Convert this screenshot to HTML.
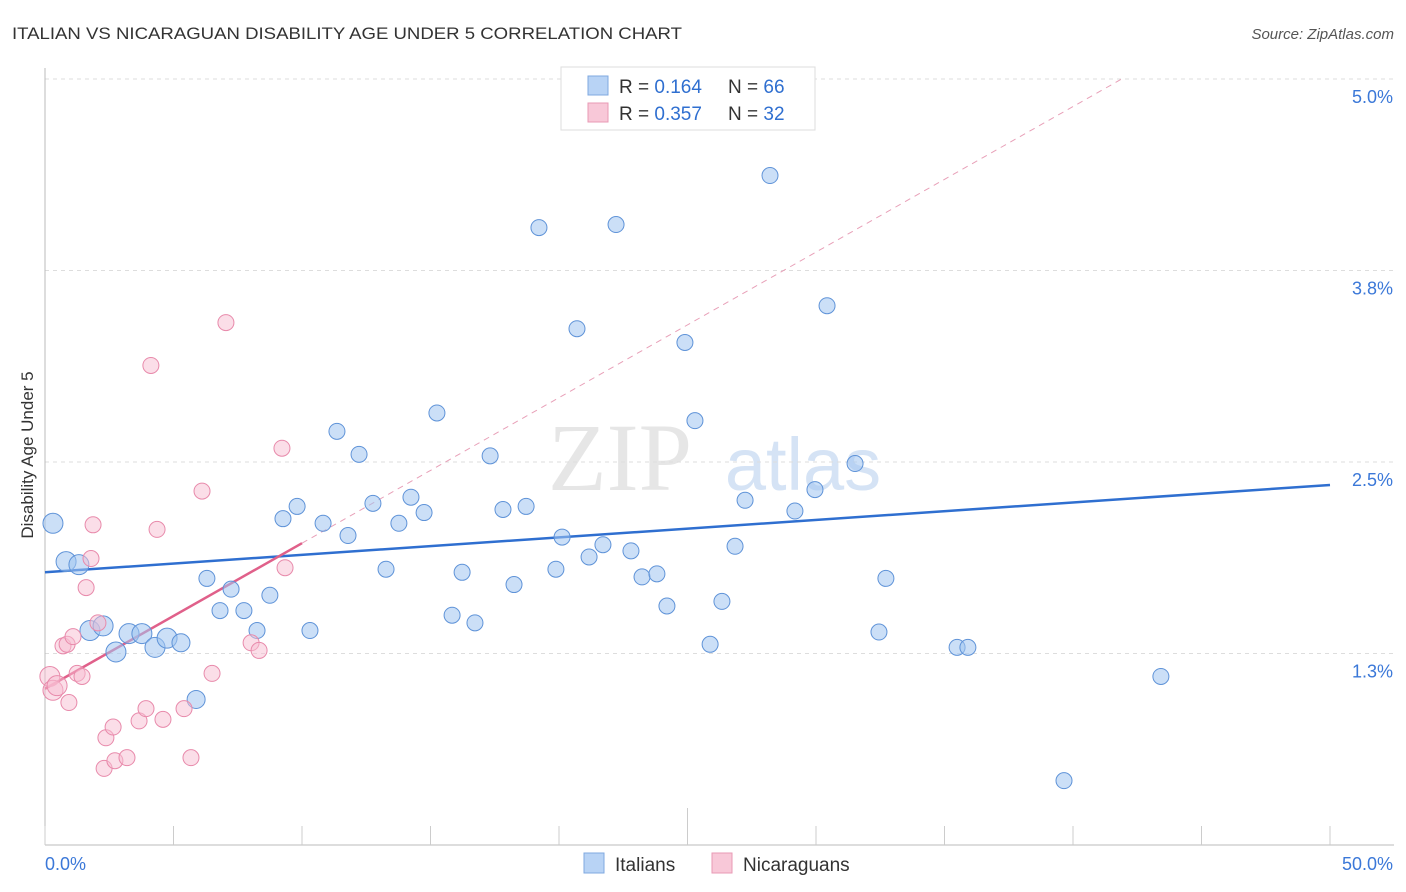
<!DOCTYPE html>
<html><head><meta charset="utf-8"><style>
body{margin:0;background:#fff;font-family:"Liberation Sans",sans-serif;}
svg{display:block}
</style></head><body>
<svg id="chart" width="1406" height="892">
<text x="12" y="39" font-size="17" fill="#333" textLength="670" lengthAdjust="spacingAndGlyphs">ITALIAN VS NICARAGUAN DISABILITY AGE UNDER 5 CORRELATION CHART</text>
<text x="1394" y="39" font-size="15" fill="#555" font-style="italic" text-anchor="end">Source: ZipAtlas.com</text>
<text x="33" y="455" font-size="17" fill="#333" text-anchor="middle" transform="rotate(-90 33 455)">Disability Age Under 5</text>
<text x="620" y="490" font-size="96" fill="#e6e6e6" font-family="Liberation Serif,serif" text-anchor="middle">ZIP</text>
<text x="803" y="490" font-size="74" fill="#d5e3f5" text-anchor="middle">atlas</text>
<g id="grid"></g><g id="axes"></g><g id="trend"></g><g id="pts"></g>
<g>
<rect x="561" y="67" width="254" height="63" fill="#fff" stroke="#ddd"/>
<rect x="588" y="76" width="20" height="19" fill="#b8d3f5" stroke="#7fa8e0"/>
<text x="619" y="93" font-size="19" fill="#333">R = <tspan fill="#2f6fd0">0.164</tspan></text>
<text x="728" y="93" font-size="19" fill="#333">N = <tspan fill="#2f6fd0">66</tspan></text>
<rect x="588" y="103" width="20" height="19" fill="#f8c8d8" stroke="#e89ab5"/>
<text x="619" y="120" font-size="19" fill="#333">R = <tspan fill="#2f6fd0">0.357</tspan></text>
<text x="728" y="120" font-size="19" fill="#333">N = <tspan fill="#2f6fd0">32</tspan></text>
</g>
<rect x="584" y="853" width="20" height="20" fill="#b8d3f5" stroke="#7fa8e0"/>
<text x="615" y="871" font-size="19" fill="#333">Italians</text>
<rect x="712" y="853" width="20" height="20" fill="#f8c8d8" stroke="#e89ab5"/>
<text x="743" y="871" font-size="19" fill="#333">Nicaraguans</text>
</svg>
<script>
const italiansX=[0.31,0.82,1.32,1.75,2.26,2.76,3.27,3.77,4.28,4.75,5.29,5.88,6.30,6.81,7.24,7.74,8.25,8.75,9.26,9.81,10.31,10.82,11.36,11.79,12.22,12.76,13.27,13.77,14.24,14.75,15.25,15.84,16.23,16.73,17.32,17.82,18.25,18.72,19.22,19.88,20.12,20.70,21.17,21.71,22.22,22.80,23.23,23.81,24.20,24.90,25.29,25.88,26.34,26.85,27.24,28.21,29.18,29.96,30.43,31.52,32.45,32.72,35.49,35.91,43.42,39.65];
const italiansY=[2.10,1.85,1.83,1.40,1.43,1.26,1.38,1.38,1.29,1.35,1.32,0.95,1.74,1.53,1.67,1.53,1.40,1.63,2.13,2.21,1.40,2.10,2.70,2.02,2.55,2.23,1.80,2.10,2.27,2.17,2.82,1.50,1.78,1.45,2.54,2.19,1.70,2.21,4.03,1.80,2.01,3.37,1.88,1.96,4.05,1.92,1.75,1.77,1.56,3.28,2.77,1.31,1.59,1.95,2.25,4.37,2.18,2.32,3.52,2.49,1.39,1.74,1.29,1.29,1.10,0.42];
const italiansR=[10,10,10,10,10,10,10,10,10,10,9,9,8,8,8,8,8,8,8,8,8,8,8,8,8,8,8,8,8,8,8,8,8,8,8,8,8,8,8,8,8,8,8,8,8,8,8,8,8,8,8,8,8,8,8,8,8,8,8,8,8,8,8,8,8,8];
const nicX=[0.19,0.31,0.47,0.70,0.86,0.93,1.09,1.25,1.44,1.60,1.79,1.87,2.06,2.30,2.37,2.65,2.72,3.19,3.66,3.93,4.12,4.36,4.59,5.41,5.68,6.11,6.50,7.04,8.02,8.33,9.22,9.34];
const nicY=[1.10,1.01,1.04,1.30,1.31,0.93,1.36,1.12,1.10,1.68,1.87,2.09,1.45,0.50,0.70,0.77,0.55,0.57,0.81,0.89,3.13,2.06,0.82,0.89,0.57,2.31,1.12,3.41,1.32,1.27,2.59,1.81];
const yTicks=[1.25,2.5,3.75,5.0];
const yTickLabels=["1.3%","2.5%","3.8%","5.0%"];
const xTicks=[0,5,10,15,20,25,30,35,40,45,50];
const italTrend=[1.78,2.35];
const nicTrend=[1.02,0.095];
const X=v=>45+v*25.7, Y=v=>845-v*153.2;
const NS="http://www.w3.org/2000/svg";
function mk(t,a,p){const e=document.createElementNS(NS,t);for(const k in a)e.setAttribute(k,a[k]);document.getElementById(p).appendChild(e);return e;}
yTicks.forEach((t,i)=>{
 const l=mk('line',{x1:45,x2:1394,y1:Y(t),y2:Y(t),stroke:'#ddd','stroke-dasharray':'4,4'},'grid');
 
 
 const tx=mk('text',{x:1393,y:Y(t)+24,'font-size':18,fill:'#3b78d8','text-anchor':'end'},'grid');
 tx.textContent=yTickLabels[i];
 
 
});
const ax=mk('line',{x1:45,x2:45,y1:68,y2:845,stroke:'#bbb'},'axes');


const bx=mk('line',{x1:45,x2:1394,y1:845,y2:845,stroke:'#bbb'},'axes');


xTicks.forEach(t=>{
 const l=mk('line',{x1:X(t),x2:X(t),y1:t==25?808:826,y2:845,stroke:'#ccc'},'axes');
 
 
});
const xl0=mk('text',{x:45,y:870,'font-size':18,fill:'#3b78d8'},'axes');xl0.textContent='0.0%';


const xl1=mk('text',{x:1393,y:870,'font-size':18,fill:'#3b78d8','text-anchor':'end'},'axes');xl1.textContent='50.0%';


italiansX.forEach((x,i)=>{
 const c=mk('circle',{cx:X(x),cy:Y(italiansY[i]),r:italiansR[i],fill:'rgba(160,196,240,0.55)',stroke:'#5f93d8','stroke-width':1},'pts');
 
 
});
nicX.forEach((x,i)=>{
 const c=mk('circle',{cx:X(x),cy:Y(nicY[i]),r:i<3?10:8,fill:'rgba(248,190,210,0.5)',stroke:'#e88aab','stroke-width':1},'pts');
 
 
});
const bt=mk('line',{x1:X(0),y1:Y(italTrend[0]),x2:X(50),y2:Y(italTrend[1]),stroke:'#2f6fd0','stroke-width':2.5},'trend');


const xe=(5-nicTrend[0])/nicTrend[1];
const pd=mk('line',{x1:X(10),y1:Y(nicTrend[0]+10*nicTrend[1]),x2:X(xe),y2:Y(5),stroke:'#e8a0b8','stroke-width':1,'stroke-dasharray':'6,5'},'trend');


const pt=mk('line',{x1:X(0),y1:Y(nicTrend[0]),x2:X(10),y2:Y(nicTrend[0]+10*nicTrend[1]),stroke:'#e0608a','stroke-width':2.5},'trend');


</script>
</body></html>
